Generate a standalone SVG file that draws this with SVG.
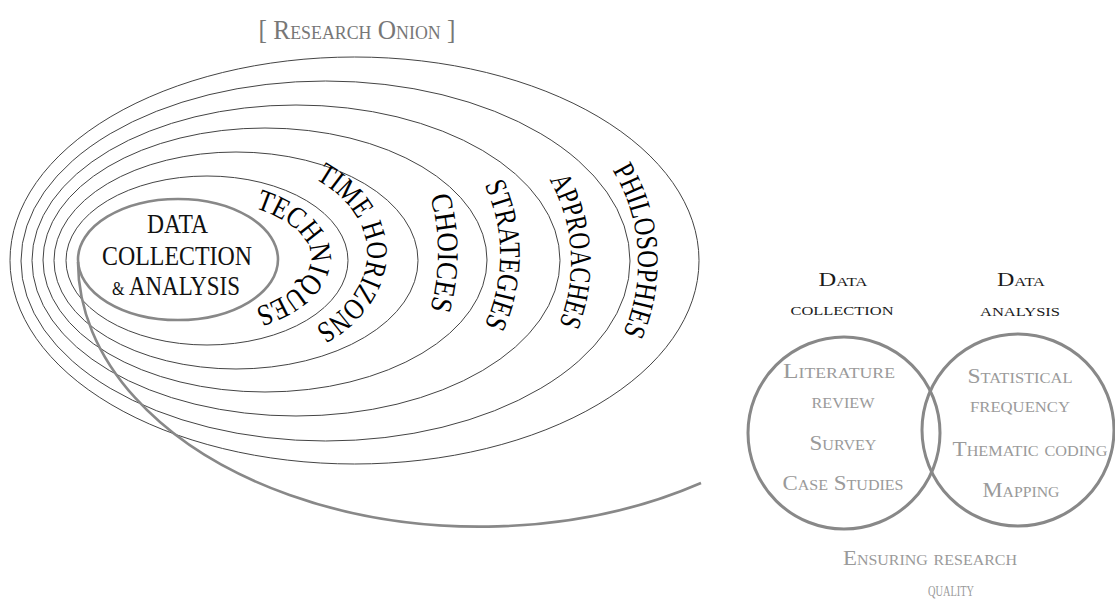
<svg xmlns="http://www.w3.org/2000/svg" width="1115" height="599" viewBox="0 0 1115 599">
  <style>
    .ring { fill: none; stroke: #444; stroke-width: 1; }
    .core { fill: none; stroke: #888; stroke-width: 2.6; }
    .serif { font-family: "Liberation Serif", "DejaVu Serif", serif; }
    .sc { font-variant: small-caps; }
    .layer { font-size: 30px; fill: #000; }
    .core-label { font-size: 27px; fill: #111; text-anchor: middle; }
    .head { font-size: 19px; fill: #1a1a1a; text-anchor: middle; }
    .item { font-size: 20px; fill: #9a9a9a; text-anchor: middle; }
  </style>
  <defs>
    <!-- baselines for the layer names, drawn clockwise over the right side -->
    <path id="arc-techniques" d="M175,196 A136,62 0 0 1 175,320"/>
    <path id="arc-time" d="M228,158 A139,95 0 0 1 228,348"/>
    <path id="arc-choices" d="M230,45 A208,208 0 0 1 230,461"/>
    <path id="arc-strategies" d="M335,90 A165,165 0 0 1 335,420"/>
    <path id="arc-approaches" d="M404,95 A167,167 0 0 1 404,429"/>
    <path id="arc-philosophies" d="M460,84 A178,178 0 0 1 460,440"/>
  </defs>

  <rect width="1115" height="599" fill="#fff"/>

  <text id="title" class="serif sc" x="357" y="39" font-size="27" fill="#777" text-anchor="middle" textLength="197" lengthAdjust="spacingAndGlyphs">[ Research Onion ]</text>

  <!-- onion layers -->
  <g id="onion">
    <g id="ring-philosophies"><ellipse class="ring" cx="354.5" cy="260.5" rx="344.5" ry="203.5"/></g>
    <g id="ring-approaches"><ellipse class="ring" cx="325.5" cy="261" rx="304.5" ry="180"/></g>
    <g id="ring-strategies"><ellipse class="ring" cx="296" cy="260.5" rx="264" ry="155.5"/></g>
    <g id="ring-choices"><ellipse class="ring" cx="265" cy="260" rx="222" ry="132"/></g>
    <g id="ring-time-horizons"><ellipse class="ring" cx="236" cy="260.5" rx="182" ry="108.5"/></g>
    <g id="ring-techniques"><ellipse class="ring" cx="207" cy="260.5" rx="141" ry="84.5"/></g>
    <g id="core">
      <ellipse class="core" cx="178" cy="259.5" rx="100" ry="60.5"/>
      <text class="serif core-label" x="177.5" y="233" textLength="61" lengthAdjust="spacingAndGlyphs">DATA</text>
      <text class="serif core-label" x="177" y="265" textLength="150" lengthAdjust="spacingAndGlyphs">COLLECTION</text>
      <text class="serif core-label" x="176" y="295" textLength="128" lengthAdjust="spacingAndGlyphs"><tspan font-size="19">&amp;</tspan> ANALYSIS</text>
    </g>
  </g>

  <!-- layer names -->
  <g id="layer-labels" class="serif layer">
    <text><textPath href="#arc-techniques" startOffset="50%" text-anchor="middle" textLength="160" lengthAdjust="spacingAndGlyphs">TECHNIQUES</textPath></text>
    <text><textPath href="#arc-time" startOffset="50%" text-anchor="middle" textLength="190" lengthAdjust="spacingAndGlyphs">TIME HORIZONS</textPath></text>
    <text><textPath href="#arc-choices" startOffset="50%" text-anchor="middle" textLength="115" lengthAdjust="spacingAndGlyphs">CHOICES</textPath></text>
    <text><textPath href="#arc-strategies" startOffset="50%" text-anchor="middle" textLength="145" lengthAdjust="spacingAndGlyphs">STRATEGIES</textPath></text>
    <text><textPath href="#arc-approaches" startOffset="251" text-anchor="middle" textLength="150" lengthAdjust="spacingAndGlyphs">APPROACHES</textPath></text>
    <text><textPath href="#arc-philosophies" startOffset="268" text-anchor="middle" textLength="170" lengthAdjust="spacingAndGlyphs">PHILOSOPHIES</textPath></text>
  </g>

  <!-- spiral leading from the core out towards the detail view -->
  <g id="connectors">
    <path class="core" d="M78,262 A402,265 0 0 0 701,483"/>
  </g>

  <!-- detail view: collection and analysis -->
  <g id="data-collection">
    <circle cx="844" cy="433" r="96" fill="none" stroke="#888" stroke-width="3"/>
    <text class="serif sc head" x="843" y="286" textLength="49" lengthAdjust="spacingAndGlyphs">Data</text>
    <text class="serif sc head" x="842" y="315" textLength="103" lengthAdjust="spacingAndGlyphs">collection</text>
    <text class="serif sc item" x="839" y="378" textLength="112" lengthAdjust="spacingAndGlyphs">Literature</text>
    <text class="serif sc item" x="843" y="408" textLength="63" lengthAdjust="spacingAndGlyphs">review</text>
    <text class="serif sc item" x="843" y="450" textLength="67" lengthAdjust="spacingAndGlyphs">Survey</text>
    <text class="serif sc item" x="843" y="490" textLength="121" lengthAdjust="spacingAndGlyphs">Case Studies</text>
  </g>
  <g id="data-analysis">
    <circle cx="1018" cy="430" r="96" fill="none" stroke="#888" stroke-width="3"/>
    <text class="serif sc head" x="1021" y="286" textLength="48" lengthAdjust="spacingAndGlyphs">Data</text>
    <text class="serif sc head" x="1020" y="316" textLength="80" lengthAdjust="spacingAndGlyphs">analysis</text>
    <text class="serif sc item" x="1020" y="383" textLength="105" lengthAdjust="spacingAndGlyphs">Statistical</text>
    <text class="serif sc item" x="1020" y="412" textLength="100" lengthAdjust="spacingAndGlyphs">frequency</text>
    <text class="serif sc item" x="1030" y="456" textLength="155" lengthAdjust="spacingAndGlyphs">Thematic coding</text>
    <text class="serif sc item" x="1021" y="497" textLength="77" lengthAdjust="spacingAndGlyphs">Mapping</text>
  </g>
  <g id="research-quality">
    <text class="serif sc item" x="930" y="565" textLength="174" lengthAdjust="spacingAndGlyphs">Ensuring research</text>
    <text class="serif sc item" x="951" y="596" textLength="46" lengthAdjust="spacingAndGlyphs">quality</text>
  </g>
</svg>
